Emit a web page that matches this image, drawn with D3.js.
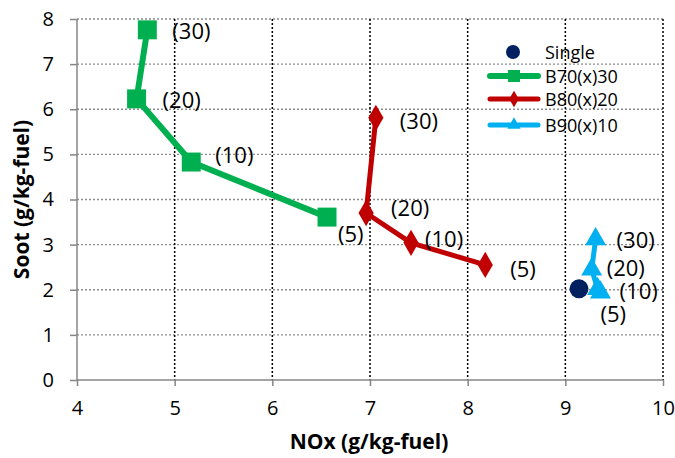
<!DOCTYPE html>
<html><head><meta charset="utf-8">
<script src="https://cdn.jsdelivr.net/npm/d3@7"></script>
<style>body{margin:0;background:#fff}svg{display:block;font-family:"Open Sans","Liberation Sans",sans-serif}</style>
</head><body><svg id="c" width="675" height="458"></svg>
<script>
const xTicks=[4,5,6,7,8,9,10];
const yTicks=[0,1,2,3,4,5,6,7,8];
const seriesNames=["Single","B70(x)30","B80(x)20","B90(x)10"];
const singleX=[9.14], singleY=[2.02];
const b70X=[4.72,4.61,5.17,6.56], b70Y=[7.76,6.23,4.83,3.61];
const b80X=[7.06,6.96,7.42,8.18], b80Y=[5.81,3.70,3.04,2.55];
const b90X=[9.31,9.27,9.33,9.36], b90Y=[3.12,2.45,2.02,1.94];
const pointLabels=["(30)","(20)","(10)","(5)"];
// label offsets in pixels [dx,dy] per series/point
const b70Off=[[25,0],[26,0],[24,-8],[11,16]];
const b80Off=[[24,2],[25,-6],[14,-5],[25,3]];
const b90Off=[[21,0],[15,-2],[22,1],[0,21]];

const svg=d3.select("#c");
const m={l:77,r:663,t:19,b:380};
const x=d3.scaleLinear().domain([4,10]).range([m.l,m.r]);
const y=d3.scaleLinear().domain([0,8]).range([m.b,m.t]);

// gridlines
svg.append("g").selectAll("line").data(yTicks.filter(d=>d>0)).join("line")
 .attr("x1",m.l).attr("x2",m.r).attr("y1",d=>y(d)).attr("y2",d=>y(d))
 .attr("stroke","#8c8c8c").attr("stroke-width",1.3).attr("stroke-dasharray","2,2");
svg.append("g").selectAll("line").data(xTicks.filter(d=>d>4)).join("line")
 .attr("y1",m.t).attr("y2",m.b).attr("x1",d=>x(d)).attr("x2",d=>x(d))
 .attr("stroke","#000").attr("stroke-width",1.5).attr("stroke-dasharray","2,2");

// axes
const xa=svg.append("g").attr("transform",`translate(0,${m.b})`)
 .call(d3.axisBottom(x).tickValues(xTicks).tickSize(6).tickPadding(15).tickFormat(d3.format("d")));
const ya=svg.append("g").attr("transform",`translate(${m.l},0)`)
 .call(d3.axisLeft(y).tickValues(yTicks).tickSize(7).tickPadding(16).tickFormat(d3.format("d")));
[xa,ya].forEach(a=>{a.select(".domain").attr("stroke","#868686").attr("stroke-width",1.5);
 a.selectAll(".tick line").attr("stroke","#868686").attr("stroke-width",1.5);
 a.selectAll("text").attr("font-size",20).attr("fill","#000").attr("font-family","Open Sans, sans-serif");});
xa.selectAll(".domain").attr("d",`M${m.l},0H${m.r}`);
ya.selectAll(".domain").attr("d",`M0,${m.b}V${m.t}`);

svg.append("text").attr("x",369).attr("y",449).attr("text-anchor","middle")
 .attr("font-size",21).attr("font-weight","bold").text("NOx (g/kg-fuel)");
svg.append("text").attr("transform",`translate(29,${(m.t+m.b)/2}) rotate(-90)`).attr("text-anchor","middle")
 .attr("font-size",21).attr("font-weight","bold").text("Soot (g/kg-fuel)");

const line=d3.line().x(d=>x(d[0])).y(d=>y(d[1]));
function zip(a,b){return a.map((v,i)=>[v,b[i]]);}
const series=[
 {pts:zip(b70X,b70Y),color:"#00B050",w:6,sym:d3.symbolSquare,size:360,off:b70Off},
 {pts:zip(b80X,b80Y),color:"#C00000",w:5,sym:d3.symbolDiamond,size:200,off:b80Off},
 {pts:zip(b90X,b90Y),color:"#00B0F0",w:5,sym:d3.symbolTriangle,size:190,off:b90Off}
];
// single
svg.append("circle").attr("cx",x(singleX[0])).attr("cy",y(singleY[0])).attr("r",9.5).attr("fill","#002060");
series.forEach(s=>{
 svg.append("path").datum(s.pts).attr("d",line).attr("fill","none").attr("stroke",s.color)
  .attr("stroke-width",s.w).attr("stroke-linejoin","round");
 svg.append("g").selectAll("path").data(s.pts).join("path")
  .attr("transform",d=>`translate(${x(d[0])},${y(d[1])})`)
  .attr("d",d3.symbol().type(s.sym).size(s.size)).attr("fill",s.color);
});
series.forEach(s=>{
 svg.append("g").selectAll("text").data(s.pts).join("text")
  .attr("x",(d,i)=>x(d[0])+s.off[i][0]).attr("y",(d,i)=>y(d[1])+s.off[i][1])
  .attr("dominant-baseline","central")
  .attr("font-size",22).attr("fill","#000").text((d,i)=>pointLabels[i]);
});

// legend
const lg=svg.append("g");
const rows=[52,76,99,125];
lg.append("circle").attr("cx",513).attr("cy",rows[0]).attr("r",7).attr("fill","#002060");
series.forEach((s,i)=>{
 const yy=rows[i+1];
 lg.append("line").attr("x1",490).attr("x2",538).attr("y1",yy).attr("y2",yy)
  .attr("stroke",s.color).attr("stroke-width",s.w).attr("stroke-linecap","round");
 lg.append("path").attr("transform",`translate(514,${yy})`)
  .attr("d",d3.symbol().type(s.sym).size(s.size*0.4)).attr("fill",s.color);
});
lg.selectAll("text").data(seriesNames).join("text").attr("x",545).attr("y",(d,i)=>rows[i])
 .attr("dominant-baseline","central")
 .attr("font-size",18).attr("fill","#000").text(d=>d);
</script></body></html>
